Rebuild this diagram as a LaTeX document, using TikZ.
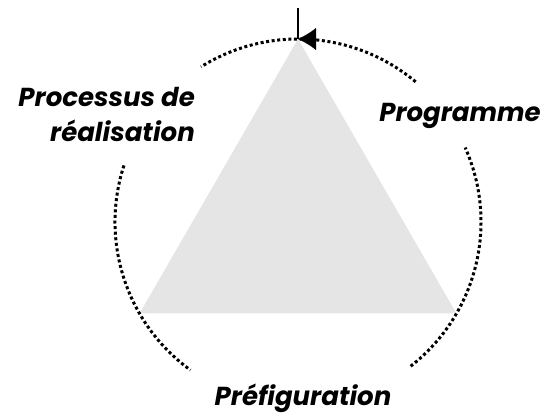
\documentclass[tikz,border=0pt]{standalone}
\usepackage{fontspec}
\setsansfont{Poppins}
\usetikzlibrary{arrows.meta,positioning}

\begin{document}
\begin{tikzpicture}[x=1pt, y=1pt, >={Latex[length=18pt,width=22pt]},
        dotcircle/.style={line width=3pt, dash pattern=on 3pt off 2.6pt},
        phase/.style={font=\sffamily\bfseries\itshape\fontsize{26}{35}\selectfont, inner sep=0pt}]
        \useasboundingbox (-298,-192) rectangle (253,222);
        \coordinate (c)     at (0,0);
        \coordinate (top)   at (90:183);
        \coordinate (left)  at (210:183);
        \coordinate (right) at (-30:183);
        \coordinate (tick)  at (0,214);
        \coordinate (back)  at (18,183);

        \fill[gray!20] (top) -- (left) -- (right) -- cycle;

        \draw[dotcircle] (50:183)  arc[start angle=50,  end angle=122, radius=183];
        \draw[dotcircle] (162:183) arc[start angle=162, end angle=234, radius=183];
        \draw[dotcircle] (-52:183) arc[start angle=-52, end angle=24,  radius=183];

        \draw[line width=1.8pt] (tick) -- (top);
        \draw[->, line width=0.1pt] (back) -- (top);

        \node[phase, anchor=base]      (prog)  at (162,100)  {Programme};
        \node[phase, anchor=base]      (pref)  at (5,-183)   {Préfiguration};
        \node[phase, anchor=base east, align=right] (proc) at (-103,80) {Processus de\\réalisation};
\end{tikzpicture}
\end{document}
